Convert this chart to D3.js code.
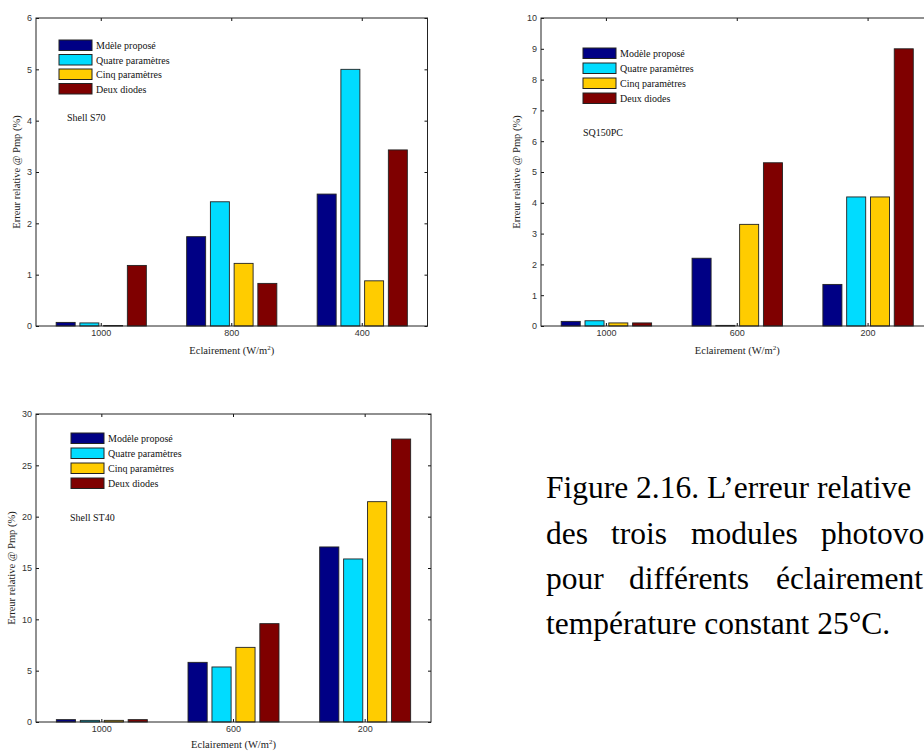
<!DOCTYPE html>
<html>
<head>
<meta charset="utf-8">
<script src="https://cdn.jsdelivr.net/npm/d3@7"></script>
<style>
  body { margin: 0; background: #fff; }
  svg { display: block; }
</style>
</head>
<body>
<div id="chart"></div>
<script>
const w = 924;
const h = 751;

// series colours (MATLAB-like)
const seriesColors = ['#000085', '#00dcff', '#ffcc00', '#7f0000'];

// Shell S70
const s70Categories = ['1000', '800', '400'];
const s70Legend = ['Mdèle proposé', 'Quatre paramètres', 'Cinq paramètres', 'Deux diodes'];
const s70Values = [
  [0.07, 0.06, 0.01, 1.18],
  [1.74, 2.42, 1.22, 0.83],
  [2.57, 5.0, 0.88, 3.43]
];
const s70Ticks = [0, 1, 2, 3, 4, 5, 6];

// SQ150PC
const sq150Categories = ['1000', '600', '200'];
const sq150Legend = ['Modèle proposé', 'Quatre paramètres', 'Cinq paramètres', 'Deux diodes'];
const sq150Values = [
  [0.15, 0.17, 0.1, 0.1],
  [2.2, 0.02, 3.3, 5.3],
  [1.35, 4.19, 4.19, 9.0]
];
const sq150Ticks = [0, 1, 2, 3, 4, 5, 6, 7, 8, 9, 10];

// Shell ST40
const st40Categories = ['1000', '600', '200'];
const st40Legend = ['Modèle proposé', 'Quatre paramètres', 'Cinq paramètres', 'Deux diodes'];
const st40Values = [
  [0.23, 0.16, 0.16, 0.23],
  [5.81, 5.36, 7.27, 9.58],
  [17.05, 15.88, 21.46, 27.56]
];
const st40Ticks = [0, 5, 10, 15, 20, 25, 30];

const svg = d3.select('#chart')
  .append('svg')
  .attr('width', w)
  .attr('height', h)
  .style('background-color', 'white');

const serif = "'Liberation Serif', 'Times New Roman', serif";
const sans = "'Liberation Sans', Arial, sans-serif";

function drawPanel(p) {
  const g = svg.append('g');

  const xScale = d3.scaleBand()
    .domain(p.categories)
    .range([p.left, p.right]);

  const groupWidth = xScale.bandwidth() * 4 / 5.5;
  const sub = d3.scaleBand()
    .domain(d3.range(4))
    .range([-groupWidth / 2, groupWidth / 2])
    .paddingInner(0.2)
    .paddingOuter(0.1);

  const yScale = d3.scaleLinear()
    .domain([0, p.yMax])
    .range([p.bottom, p.top]);

  // bars
  const groups = g.selectAll('.grp')
    .data(p.values)
    .enter()
    .append('g')
    .attr('transform', (d, i) => `translate(${xScale(p.categories[i]) + xScale.bandwidth() / 2}, 0)`);

  groups.selectAll('rect')
    .data(d => d)
    .enter()
    .append('rect')
    .attr('x', (d, j) => sub(j))
    .attr('width', sub.bandwidth())
    .attr('y', d => yScale(d))
    .attr('height', d => yScale(0) - yScale(d))
    .attr('fill', (d, j) => seriesColors[j])
    .attr('stroke', '#222')
    .attr('stroke-width', 0.9);

  // axes, ticks inside
  const yAxis = d3.axisLeft(yScale)
    .tickValues(p.ticks)
    .tickFormat(d3.format('d'))
    .tickSize(-3)
    .tickPadding(4);
  g.append('g')
    .attr('transform', `translate(${p.left}, 0)`)
    .call(yAxis)
    .call(a => a.select('.domain').remove());

  g.append('g')
    .attr('transform', `translate(${p.right}, 0)`)
    .call(d3.axisRight(yScale).tickValues(p.ticks).tickSize(-3).tickFormat(''))
    .call(a => a.select('.domain').remove());

  g.append('g')
    .attr('transform', `translate(0, ${p.bottom})`)
    .call(d3.axisBottom(xScale).tickSize(-3).tickPadding(4))
    .call(a => a.select('.domain').remove());

  g.append('g')
    .attr('transform', `translate(0, ${p.top})`)
    .call(d3.axisTop(xScale).tickSize(-3).tickFormat(''))
    .call(a => a.select('.domain').remove());

  g.selectAll('.tick text')
    .attr('font-family', sans)
    .attr('font-size', '9px')
    .attr('fill', '#333');
  g.selectAll('.tick line').attr('stroke', '#111');

  // frame
  g.append('rect')
    .attr('x', p.left)
    .attr('y', p.top)
    .attr('width', p.right - p.left)
    .attr('height', p.bottom - p.top)
    .attr('fill', 'none')
    .attr('stroke', '#222')
    .attr('stroke-width', 1);

  // legend
  const legend = g.selectAll('.legend')
    .data(p.legend)
    .enter()
    .append('g')
    .attr('transform', (d, i) => `translate(${p.legX}, ${p.legY + i * p.legStep})`);

  legend.append('rect')
    .attr('width', 33)
    .attr('height', 10.5)
    .attr('fill', (d, i) => seriesColors[i])
    .attr('stroke', '#222')
    .attr('stroke-width', 1);

  legend.append('text')
    .attr('x', 37)
    .attr('y', 9)
    .text(d => d)
    .attr('font-family', serif)
    .attr('font-size', '10px')
    .attr('fill', '#111');

  g.append('text')
    .attr('x', p.nameX)
    .attr('y', p.nameY)
    .text(p.name)
    .attr('font-family', serif)
    .attr('font-size', '10px')
    .attr('fill', '#111');

  // axis titles
  g.append('text')
    .attr('transform', `translate(${p.yLabelX}, ${(p.top + p.bottom) / 2}) rotate(-90)`)
    .attr('text-anchor', 'middle')
    .text('Erreur relative @ Pmp (%)')
    .attr('font-family', serif)
    .attr('font-size', '10.5px')
    .attr('fill', '#222');

  const xl = g.append('text')
    .attr('x', (p.left + p.right) / 2)
    .attr('y', p.xLabelY)
    .attr('text-anchor', 'middle')
    .attr('font-family', serif)
    .attr('font-size', '10.5px')
    .attr('fill', '#222');
  xl.append('tspan').text('Eclairement (W/m');
  xl.append('tspan').attr('dy', -4).attr('font-size', '7px').text('2');
  xl.append('tspan').attr('dy', 4).text(')');
}

drawPanel({
  left: 36, right: 427.5, top: 18, bottom: 326, yMax: 6, ticks: s70Ticks,
  categories: s70Categories, values: s70Values, legend: s70Legend,
  legX: 59, legY: 40, legStep: 14.5, name: 'Shell S70', nameX: 67, nameY: 121,
  yLabelX: 20, xLabelY: 354
});

drawPanel({
  left: 541, right: 933.5, top: 18, bottom: 326, yMax: 10, ticks: sq150Ticks,
  categories: sq150Categories, values: sq150Values, legend: sq150Legend,
  legX: 583, legY: 48, legStep: 15, name: 'SQ150PC', nameX: 583, nameY: 136,
  yLabelX: 520, xLabelY: 354
});

drawPanel({
  left: 36, right: 431, top: 414, bottom: 722, yMax: 30, ticks: st40Ticks,
  categories: st40Categories, values: st40Values, legend: st40Legend,
  legX: 71, legY: 433, legStep: 15, name: 'Shell ST40', nameX: 70, nameY: 521,
  yLabelX: 15, xLabelY: 748
});

// caption (justified, cut at the page edge)
const captionLines = [
  [['Figure 2.16. L’erreur relative', 546]],
  [['des', 546], ['trois', 611], ['modules', 691], ['photovo', 821]],
  [['pour', 546], ['différents', 629], ['éclairement', 776]],
  [['température constant 25°C.', 546]]
];
const captionBase = [498, 544, 589, 634];

captionLines.forEach((words, i) => {
  const t = svg.append('text')
    .attr('y', captionBase[i])
    .attr('font-family', serif)
    .attr('font-size', '31.5px')
    .attr('fill', '#000');
  words.forEach(([txt, x]) => t.append('tspan').attr('x', x).text(txt));
});
</script>
</body>
</html>
